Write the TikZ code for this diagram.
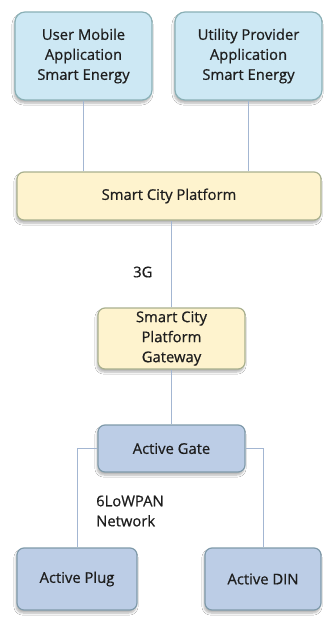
\documentclass[tikz,border=0pt]{standalone}
\usepackage{fontspec}
\setmainfont{Open Sans}
\newfontfamily\diagfont{Open Sans}[FakeBold=0.7]
\usetikzlibrary{shadows.blur}
\definecolor{appfill}{HTML}{CDE8F4}
\definecolor{appdraw}{HTML}{8AB0B6}
\definecolor{platfill}{HTML}{FEF3CE}
\definecolor{platdraw}{HTML}{A9B08E}
\definecolor{devfill}{HTML}{BCCDE6}
\definecolor{devdraw}{HTML}{7F9AAA}
\definecolor{wire}{HTML}{A3B6D2}
\definecolor{ink}{HTML}{1E1E1E}
\tikzset{
  label text/.style={text=ink, font=\diagfont\fontsize{14.8}{20}\selectfont},
  box/.style={draw, line width=1.2pt, rounded corners=7pt, align=center,
    label text, inner sep=0pt,
    blur shadow={shadow xshift=-1pt, shadow yshift=-3pt, shadow opacity=30, shadow blur steps=6}},
  appbox/.style={box, fill=appfill, draw=appdraw, rounded corners=10pt},
  platbox/.style={box, fill=platfill, draw=platdraw},
  devbox/.style={box, fill=devfill, draw=devdraw},
  wirestyle/.style={draw=wire, line width=0.9pt},
  tag/.style={label text, align=left, inner sep=0pt}
}
\begin{document}
\begin{tikzpicture}[x=1pt, y=-1pt]
\fill[white] (0,0) rectangle (325,618);
\useasboundingbox (0,0) rectangle (325,618);

% application layer
\node[appbox, minimum width=137pt, minimum height=88pt] (user) at (83.5,56)
  {User Mobile\\Application\\Smart Energy};
\node[appbox, minimum width=147pt, minimum height=88pt] (util) at (248.5,56)
  {Utility Provider\\Application\\Smart Energy};

% platform and gateway
\node[platbox, minimum width=304pt, minimum height=48pt] (scp) at (169,196)
  {Smart City Platform};
\node[platbox, minimum width=147pt, minimum height=61pt] (gw) at (171.5,338.5)
  {Smart City\\Platform\\Gateway};

% field devices
\node[devbox, minimum width=147pt, minimum height=47pt] (gate) at (171.5,448.5)
  {Active Gate};
\node[devbox, minimum width=120pt, minimum height=62pt] (plug) at (77,579)
  {Active Plug};
\node[devbox, minimum width=116pt, minimum height=62pt] (din) at (263,579)
  {Active DIN};

% links
\draw[wirestyle] (user.south) -- (user.south |- scp.north);
\draw[wirestyle] (util.south) -- (util.south |- scp.north);
\draw[wirestyle] (gw.north) -- (gw.north |- scp.south);
\draw[wirestyle] (gw.south) -- (gate.north);
\draw[wirestyle] (gate.west) -| (plug.north);
\draw[wirestyle] (gate.east) -| (din.north);

% link labels
\node[tag, anchor=west] (g3) at (133,272) {3G};
\node[tag, anchor=west] (lowpan) at (96,511) {6LoWPAN\\Network};
\end{tikzpicture}
\end{document}
